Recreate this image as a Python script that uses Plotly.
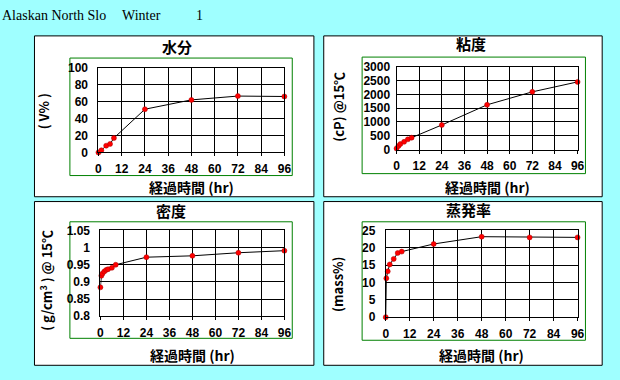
import plotly.graph_objects as go

# ---------------- data ----------------
water_t = [0, 1.5, 4, 6, 8, 24, 48, 72, 96]
water_v = [0, 2.5, 8, 10, 17, 51, 62, 66.5, 66]

visc_t = [0, 1, 2, 4, 6, 8, 24, 48, 72, 96]
visc_v = [40, 130, 200, 280, 370, 430, 890, 1620, 2090, 2450]

dens_t = [0, 0.5, 1, 2, 3, 4, 6, 8, 24, 48, 72, 96]
dens_v = [0.884, 0.918, 0.924, 0.93, 0.935, 0.937, 0.941, 0.95, 0.972, 0.976, 0.985, 0.991]

evap_t = [0, 0.3, 1, 2, 4, 6, 8, 24, 48, 72, 96]
evap_v = [0, 11.2, 13.2, 15.2, 16.8, 18.5, 18.9, 21.1, 23.2, 23.0, 23.0]

x_ticks = [0, 12, 24, 36, 48, 60, 72, 84, 96]
water_ticks = [0, 20, 40, 60, 80, 100]
visc_ticks = [0, 500, 1000, 1500, 2000, 2500, 3000]
dens_ticks = [0.8, 0.85, 0.9, 0.95, 1.0, 1.05]
dens_ticktext = ["0.8", "0.85", "0.9", "0.95", "1", "1.05"]
evap_ticks = [0, 5, 10, 15, 20, 25]

titles = ["水分", "粘度", "密度", "蒸発率"]
y_titles = ["( V% )", "(cP) @15℃", "( g/cm<sup>3</sup> ) @ 15℃", "(mass%)"]
x_title = "経過時間 (hr)"

# ---------------- layout helpers ----------------
W, H = 620, 380
def px(x):
    return x / W
def py(y):
    return 1 - y / H

BG = "#9fffff"
CJK = "Noto Sans CJK JP"
NUM = "Liberation Sans"

panels = [  # outer black boxes (x0, y0, x1, y1) in pixels
    (32, 30, 316, 197), (326, 30, 609, 197),
    (32, 202, 316, 372), (326, 202, 609, 372)]
greens = [
    (68, 53, 294, 175), (365, 52, 592, 173),
    (68, 223, 294, 344), (365, 223, 592, 346)]
plots = [
    (97, 63, 286, 151), (400, 62, 584, 148),
    (99, 232, 286, 321), (389, 232, 584, 322)]
title_pos = [(177, 41), (476, 38), (171, 211), (473, 210)]
ytitle_pos = [(41, 108), (341, 104), (43, 284), (340, 288)]
xtitle_y = [187, 187, 361, 361]

series = [
    (water_t, water_v, [0, 100], water_ticks, None),
    (visc_t, visc_v, [0, 3000], visc_ticks, None),
    (dens_t, dens_v, [0.8, 1.05], dens_ticks, dens_ticktext),
    (evap_t, evap_v, [0, 25], evap_ticks, None),
]

fig = go.Figure()
shapes = []
annotations = []
layout_axes = {}

for i, (tx, vy, yr, yt, ytt) in enumerate(series):
    n = i + 1
    xa = "x" if n == 1 else f"x{n}"
    ya = "y" if n == 1 else f"y{n}"
    fig.add_trace(go.Scatter(
        x=tx, y=vy, xaxis=xa, yaxis=ya, mode="lines+markers",
        line=dict(color="black", width=1),
        marker=dict(symbol="circle", size=5, color="#ff0000",
                    line=dict(color="#aa0000", width=0.5)),
        cliponaxis=False, showlegend=False, hoverinfo="skip"))
    p = plots[i]
    xkey = "xaxis" if n == 1 else f"xaxis{n}"
    ykey = "yaxis" if n == 1 else f"yaxis{n}"
    layout_axes[xkey] = dict(
        domain=[px(p[0]), px(p[2])], anchor=ya, range=[0, 96],
        tickvals=x_ticks, showgrid=True, gridcolor="black", gridwidth=1,
        showline=True, linecolor="black", linewidth=1, mirror=True,
        ticks="outside", ticklen=3, tickcolor="black", zeroline=False,
        tickfont=dict(family=NUM, size=12, color="black", weight="bold"),
        ticklabelstandoff=2, fixedrange=True)
    yd = dict(
        domain=[py(p[3]), py(p[1])], anchor=xa, range=yr,
        tickvals=yt, showgrid=True, gridcolor="black", gridwidth=1,
        showline=True, linecolor="black", linewidth=1, mirror=True,
        ticks="", zeroline=False,
        tickfont=dict(family=NUM, size=12, color="black", weight="bold"),
        ticklabelstandoff=(3 if n == 2 else 7), fixedrange=True)
    if ytt is not None:
        yd["ticktext"] = ytt
    layout_axes[ykey] = yd

    b = panels[i]
    shapes.append(dict(type="rect", xref="paper", yref="paper",
                       x0=px(b[0]), x1=px(b[2]), y0=py(b[3]), y1=py(b[1]),
                       line=dict(color="black", width=1), fillcolor="white",
                       layer="below"))
    g = greens[i]
    shapes.append(dict(type="rect", xref="paper", yref="paper",
                       x0=px(g[0]), x1=px(g[2]), y0=py(g[3]), y1=py(g[1]),
                       line=dict(color="#008000", width=1), fillcolor="white",
                       layer="below"))
    tp = title_pos[i]
    annotations.append(dict(text=titles[i], x=px(tp[0]), y=py(tp[1]),
                            xref="paper", yref="paper", showarrow=False,
                            xanchor="center", yanchor="middle",
                            font=dict(family=CJK, size=15, color="black", weight="bold")))
    yp = ytitle_pos[i]
    annotations.append(dict(text=y_titles[i], x=px(yp[0]), y=py(yp[1]),
                            xref="paper", yref="paper", showarrow=False,
                            textangle=-90, xanchor="center", yanchor="middle",
                            font=dict(family=CJK, size=13, color="black", weight="bold")))
    annotations.append(dict(text=x_title, x=px((p[0] + p[2]) / 2), y=py(xtitle_y[i]),
                            xref="paper", yref="paper", showarrow=False,
                            xanchor="center", yanchor="middle",
                            font=dict(family=CJK, size=14, color="black", weight="bold")))

# top title
for txt, x in [("Alaskan North Slo", -3), ("Winter", 119), ("1", 194)]:
    annotations.append(dict(text=txt, x=px(x), y=py(9), xref="paper", yref="paper",
                            showarrow=False, xanchor="left", yanchor="middle",
                            font=dict(family="Liberation Serif", size=14, color="black")))

fig.update_layout(
    width=W, height=H, margin=dict(l=0, r=0, t=0, b=0),
    paper_bgcolor=BG, plot_bgcolor="white",
    shapes=shapes, annotations=annotations, **layout_axes)

fig.write_html("out.html", config={"displayModeBar": False, "staticPlot": True},
               post_script="document.body.style.margin='0';document.body.style.overflow='hidden';")
